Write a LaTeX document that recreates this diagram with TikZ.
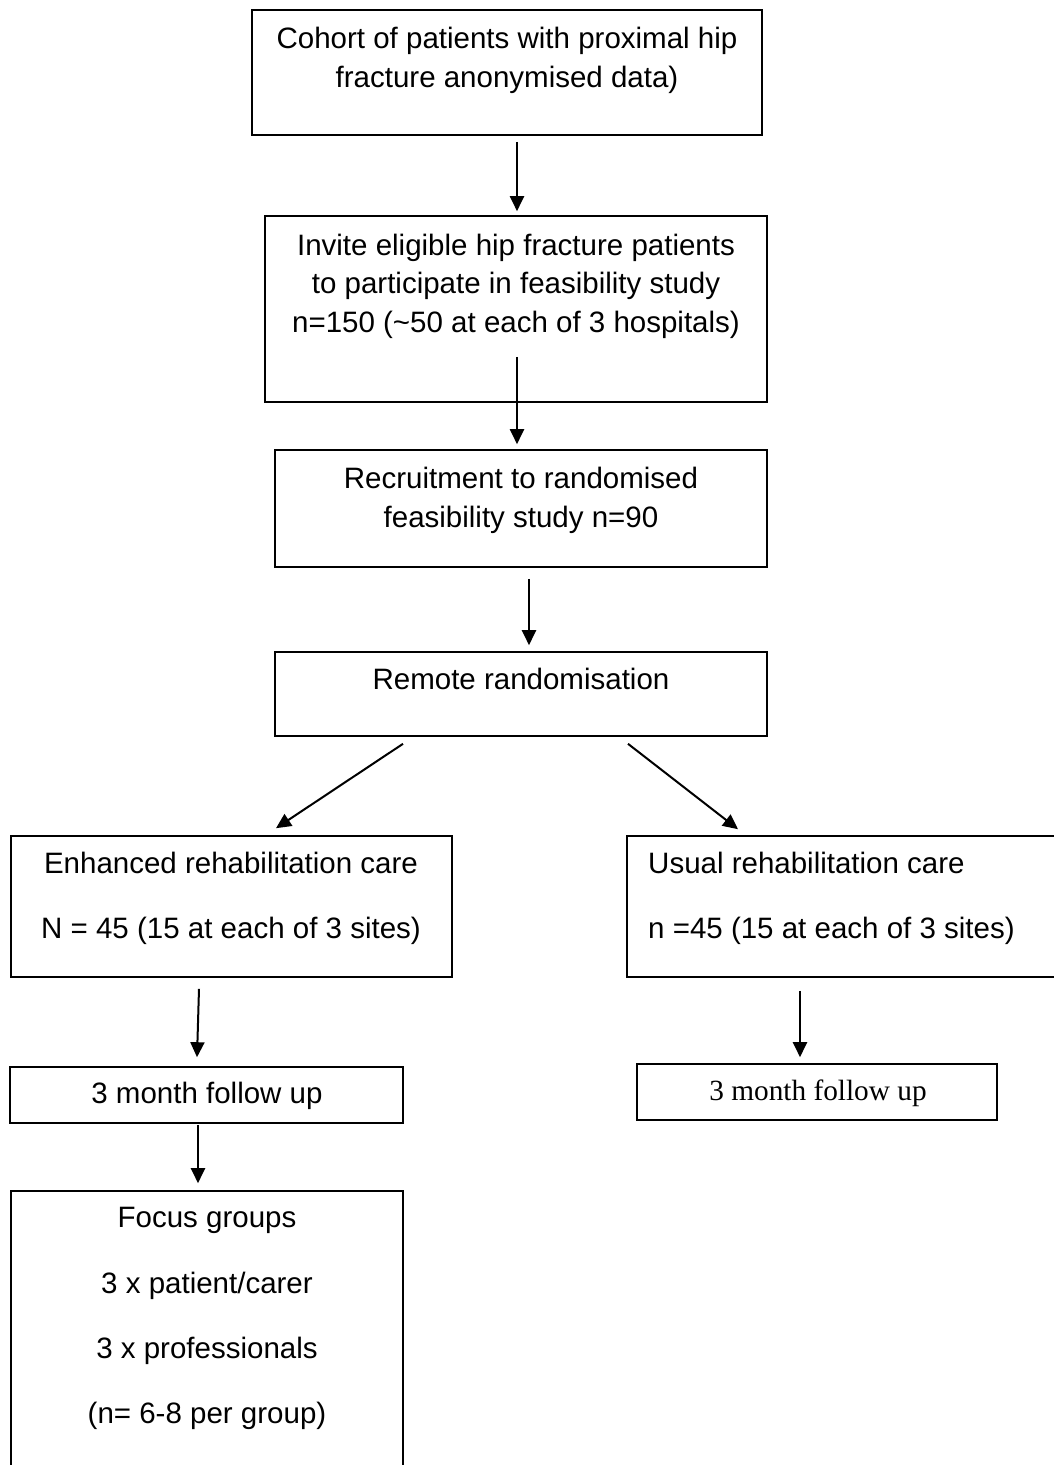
\documentclass[tikz,border=0pt]{standalone}
\usepackage{fontspec}
\setmainfont{Liberation Sans}
\newfontfamily\serifx{Liberation Serif}
\usetikzlibrary{arrows.meta}
\begin{document}
\begin{tikzpicture}[x=1pt,y=-1pt,
  boxstyle/.style={draw=black,line width=1.6pt,rectangle,inner sep=0pt},
  txt/.style={anchor=base,inner sep=0pt,font=\fontsize{29.5}{36}\selectfont},
  txtl/.style={anchor=base west,inner sep=0pt,font=\fontsize{29.5}{36}\selectfont},
  txts/.style={anchor=base,inner sep=0pt,font=\fontsize{29.3}{36}\serifx},
  arr/.style={line width=2pt,-{Triangle[length=15pt,width=14pt]}}]
\useasboundingbox (0,0) rectangle (1054,1465);
\clip (0,0) rectangle (1054,1465);
% boxes
\node[boxstyle,minimum width=510pt,minimum height=125pt] (b1) at (507,72.5) {};
\node[boxstyle,minimum width=502pt,minimum height=186pt] (b2) at (516,309) {};
\node[boxstyle,minimum width=492pt,minimum height=117pt] (b3) at (521,508.5) {};
\node[boxstyle,minimum width=492pt,minimum height=84pt] (b4) at (521,694) {};
\node[boxstyle,minimum width=441pt,minimum height=141pt] (b5) at (231.5,906.5) {};
\node[boxstyle,minimum width=453pt,minimum height=141pt] (b6) at (853.5,906.5) {};
\node[boxstyle,minimum width=393pt,minimum height=56pt] (b7) at (206.5,1095) {};
\node[boxstyle,minimum width=360pt,minimum height=56pt] (b8) at (817,1092) {};
\node[boxstyle,minimum width=392pt,minimum height=309pt] (b9) at (207,1345.5) {};
% texts
\node[txt] (t1a) at (507,48) {Cohort of patients with proximal hip};
\node[txt] (t1b) at (507,87) {fracture anonymised data)};
\node[txt] (t2a) at (516,255) {Invite eligible hip fracture patients};
\node[txt] (t2b) at (516,293) {to participate in feasibility study};
\node[txt] (t2c) at (516,332) {n=150 (\textasciitilde 50 at each of 3 hospitals)};
\node[txt] (t3a) at (521,488) {Recruitment to randomised};
\node[txt] (t3b) at (521,527) {feasibility study n=90};
\node[txt] (t4) at (521,689) {Remote randomisation};
\node[txt] (t5a) at (231,873) {Enhanced rehabilitation care};
\node[txt] (t5b) at (231,938) {N = 45 (15 at each of 3 sites)};
\node[txtl] (t6a) at (648,873) {Usual rehabilitation care};
\node[txtl] (t6b) at (648,938) {n =45 (15 at each of 3 sites)};
\node[txt] (t7) at (207,1103) {3 month follow up};
\node[txts] (t8) at (818,1100) {3 month follow up};
\node[txt] (t9a) at (207,1227) {Focus groups};
\node[txt] (t9b) at (207,1293) {3 x patient/carer};
\node[txt] (t9c) at (207,1358) {3 x professionals};
\node[txt] (t9d) at (207,1423) {(n= 6-8 per group)};
% arrows
\draw[arr] ([xshift=10pt,yshift=-6pt]b1.south) -- ([xshift=1pt,yshift=4pt]b2.north);
\draw[arr] ([xshift=1pt,yshift=46pt]b2.south) -- ([xshift=-4pt,yshift=5pt]b3.north);
\draw[arr] ([xshift=8pt,yshift=-11pt]b3.south) -- ([xshift=8pt,yshift=6pt]b4.north);
\draw[arr] ([xshift=-118pt,yshift=-7pt]b4.south) -- ([xshift=44.5pt,yshift=7pt]b5.north);
\draw[arr] ([xshift=107pt,yshift=-7pt]b4.south) -- ([xshift=-115.5pt,yshift=6pt]b6.north);
\draw[arr] ([xshift=-32.5pt,yshift=-11pt]b5.south) -- ([xshift=-9.5pt,yshift=9pt]b7.north);
\draw[arr] ([xshift=-53.5pt,yshift=-13pt]b6.south) -- ([xshift=-17pt,yshift=6pt]b8.north);
\draw[arr] ([xshift=-8.5pt,yshift=-1pt]b7.south) -- ([xshift=-9pt,yshift=7pt]b9.north);
\end{tikzpicture}
\end{document}
